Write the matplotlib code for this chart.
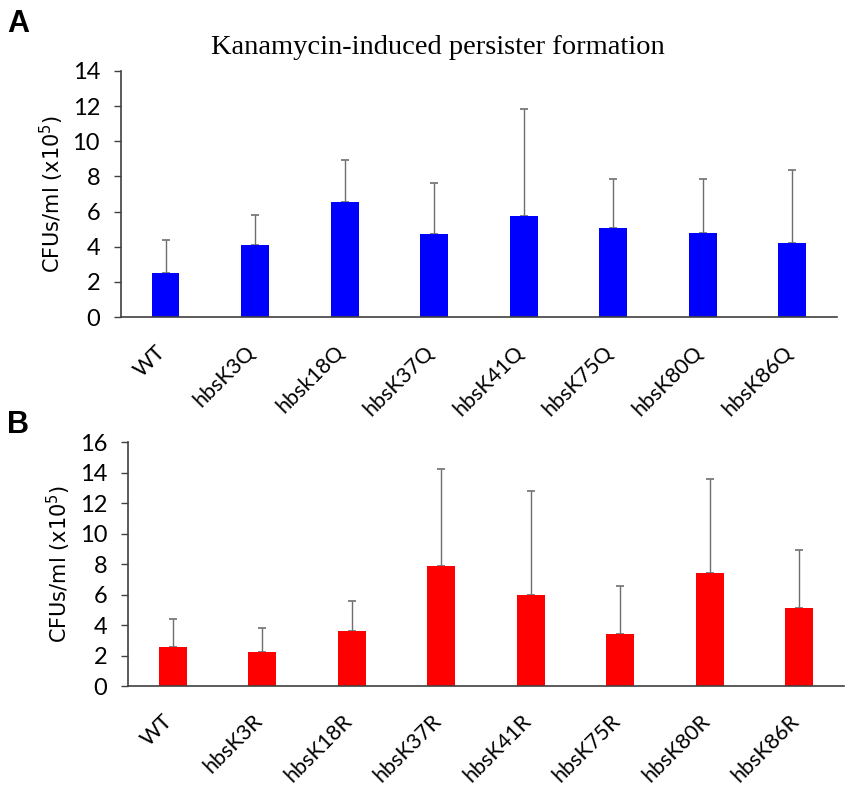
import numpy as np
import matplotlib
matplotlib.use('Agg')
import matplotlib.pyplot as plt
import matplotlib.transforms as mtransforms

# Datos panel A (K->Q)
etiquetas_a = ['WT', 'hbsK3Q', 'hbsk18Q', 'hbsK37Q', 'hbsK41Q', 'hbsK75Q', 'hbsK80Q', 'hbsK86Q']
medias_a = [2.53, 4.10, 6.53, 4.71, 5.77, 5.05, 4.79, 4.20]
tope_err_a = [4.39, 5.83, 8.93, 7.60, 11.84, 7.83, 7.85, 8.38]

# Datos panel B (K->R)
etiquetas_b = ['WT', 'hbsK3R', 'hbsK18R', 'hbsK37R', 'hbsK41R', 'hbsK75R', 'hbsK80R', 'hbsK86R']
medias_b = [2.55, 2.23, 3.58, 7.86, 5.98, 3.41, 7.42, 5.14]
tope_err_b = [4.39, 3.80, 5.57, 14.26, 12.79, 6.56, 13.60, 8.94]

fuente_ticks = ['Lato', 'DejaVu Sans']

fig = plt.figure(figsize=(8.51, 7.88), dpi=100)
ax_a = fig.add_axes([0.142, 0.5977, 0.8415, 0.3123])
ax_b = fig.add_axes([0.1504, 0.1294, 0.8414, 0.3096])


def dibujar(ax, etiquetas, medias, topes, color, ymax):
    x = np.arange(len(etiquetas))
    medias = np.array(medias)
    err = np.array(topes) - medias
    ax.bar(x, medias, width=0.31, color=color, zorder=2)
    ax.errorbar(x, medias, yerr=[np.zeros_like(err), err], fmt='none',
                ecolor='#6e6e6e', elinewidth=1.0, capsize=3, capthick=1.2, zorder=1)
    ax.set_xlim(-0.5, 7.5)
    ax.set_ylim(0, ymax)
    ax.set_yticks(np.arange(0, ymax + 1, 2))
    for s in ['top', 'right']:
        ax.spines[s].set_visible(False)
    for s in ['left', 'bottom']:
        ax.spines[s].set_color('#404040')
        ax.spines[s].set_linewidth(1.2)
    ax.tick_params(axis='y', length=5, width=1.0, color='#404040', pad=10)
    ax.tick_params(axis='x', length=0, pad=18)
    ax.set_xticks(x)
    ax.set_xticklabels(etiquetas, rotation=45, ha='right', va='top',
                       fontsize=15.5, family=fuente_ticks)
    offset = mtransforms.ScaledTranslation(0.04, 0, fig.dpi_scale_trans)
    for lab in ax.get_xticklabels():
        lab.set_transform(lab.get_transform() + offset)
    for lab in ax.get_yticklabels():
        lab.set_fontsize(17)
        lab.set_family(fuente_ticks)
    ax.set_ylabel('CFUs/ml (x10$^5$)', fontsize=15, family='DejaVu Sans', labelpad=5)


dibujar(ax_a, etiquetas_a, medias_a, tope_err_a, '#0000ff', 14)
dibujar(ax_b, etiquetas_b, medias_b, tope_err_b, '#ff0000', 16)

fig.text(0.515, 0.94, 'Kanamycin-induced persister formation', ha='center', va='center',
         fontsize=20.5, family='Liberation Serif')
fig.text(0.008, 0.988, 'A', ha='left', va='top', fontsize=22, fontweight='bold',
         family='Liberation Sans')
fig.text(0.008, 0.48, 'B', ha='left', va='top', fontsize=22, fontweight='bold',
         family='Liberation Sans')

fig.savefig('out.png', dpi=100)
